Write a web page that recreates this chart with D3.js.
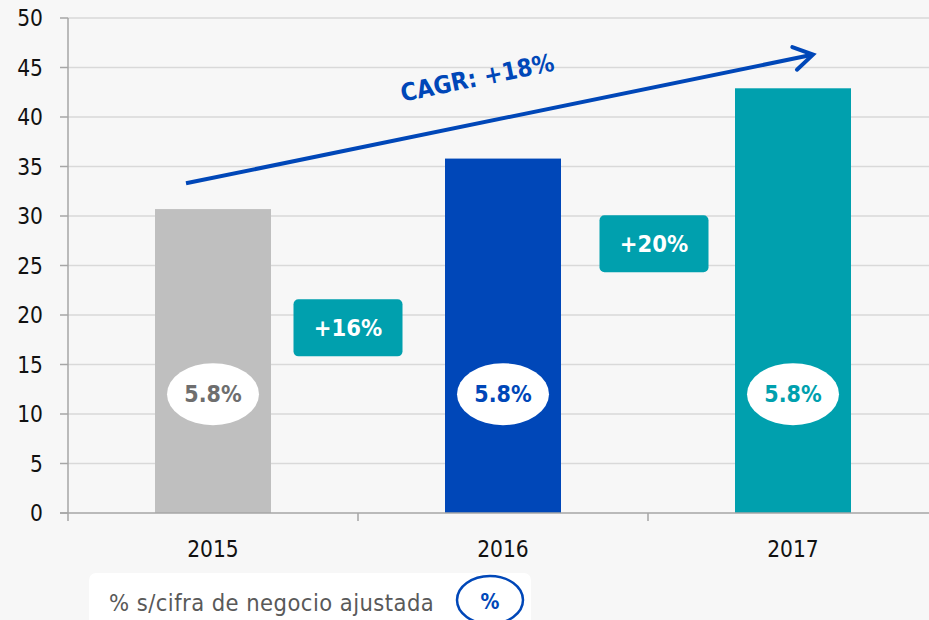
<!DOCTYPE html>
<html>
<head>
<meta charset="utf-8">
<script src="https://cdn.jsdelivr.net/npm/d3@7"></script>
<style>
  body { margin: 0; background: #f7f7f7; }
  svg { display: block; font-family: "DejaVu Sans Condensed", "DejaVu Sans", Verdana, sans-serif; }
</style>
</head>
<body>
<svg id="chart" width="929" height="620"></svg>
<script>
// datos
const years = ['2015', '2016', '2017'];
const values = [30.7, 35.8, 42.9];
const shares = ['5.8%', '5.8%', '5.8%'];
const growthLabels = ['+16%', '+20%'];
const growthLevels = [18.7, 27.2];
const cagrLabel = 'CAGR: +18%';
const cagrLevels = [33.3, 46.3];
const yTicks = [0, 5, 10, 15, 20, 25, 30, 35, 40, 45, 50];
const legendLabel = '% s/cifra de negocio ajustada';

const barColors = ['#bfbfbf', '#0047b8', '#00a0ae'];
const textColors = ['#6e6e6e', '#0047b8', '#00a0ae'];
const BLUE = '#0047b8', TEAL = '#00a0ae';

const svg = d3.select('#chart');
const x = d3.scaleBand().domain(years).range([68, 938]).paddingInner(0.6).paddingOuter(0.3);
const y = d3.scaleLinear().domain([0, 50]).range([513, 18]);
const xc = (yr) => x(yr) + x.bandwidth() / 2;

/* rejilla */
svg.append('g').selectAll('line').data(yTicks.filter(d => d > 0)).join('line')
    .attr('x1', 68).attr('x2', 929)
    .attr('y1', d => y(d)).attr('y2', d => y(d))
    .attr('stroke', '#d9d9d9').attr('stroke-width', 1.5);

/* eje y */
const yAxis = svg.append('g');
yAxis.append('line').attr('x1', 68).attr('x2', 68).attr('y1', y(50)).attr('y2', 521)
    .attr('stroke', '#a6a6a6').attr('stroke-width', 1.5);
yAxis.selectAll('line.tick').data(yTicks).join('line').attr('class', 'tick')
    .attr('x1', 60).attr('x2', 68).attr('y1', d => y(d)).attr('y2', d => y(d))
    .attr('stroke', '#a6a6a6').attr('stroke-width', 1.5);
yAxis.selectAll('text').data(yTicks).join('text')
    .attr('x', 43).attr('y', d => y(d)).attr('dy', '0.36em')
    .attr('text-anchor', 'end').attr('font-size', 22.5).attr('fill', '#111')
    .text(d => d);

/* barras */
svg.append('g').selectAll('rect').data(values).join('rect')
    .attr('x', (d, i) => x(years[i]))
    .attr('y', d => y(d))
    .attr('width', x.bandwidth())
    .attr('height', d => y(0) - y(d))
    .attr('fill', (d, i) => barColors[i]);

/* eje x */
const xAxis = svg.append('g');
xAxis.append('line').attr('x1', 60).attr('x2', 929).attr('y1', y(0)).attr('y2', y(0))
    .attr('stroke', '#a6a6a6').attr('stroke-width', 1.5);
const bounds = years.map(yr => x(yr) - x.step() * x.paddingInner() / 2).slice(1);
xAxis.selectAll('line.tick').data(bounds).join('line').attr('class', 'tick')
    .attr('x1', d => d).attr('x2', d => d).attr('y1', y(0)).attr('y2', 521)
    .attr('stroke', '#a6a6a6').attr('stroke-width', 1.5);
xAxis.selectAll('text').data(years).join('text')
    .attr('x', d => xc(d)).attr('y', 557)
    .attr('text-anchor', 'middle').attr('font-size', 22.5).attr('fill', '#111')
    .text(d => d);

/* elipses con % */
const ell = svg.append('g').selectAll('g').data(shares).join('g')
    .attr('transform', (d, i) => `translate(${xc(years[i])},${y(12)})`);
ell.append('ellipse').attr('rx', 46).attr('ry', 31).attr('fill', '#fff');
ell.append('text').attr('text-anchor', 'middle').attr('dy', '0.36em')
    .attr('font-size', 23).attr('font-weight', 'bold')
    .attr('fill', (d, i) => textColors[i]).text(d => d);

/* cajas de crecimiento */
const gb = svg.append('g').selectAll('g').data(growthLabels).join('g')
    .attr('transform', (d, i) => {
        const cx = (xc(years[i]) + xc(years[i + 1])) / 2 - 10 + i * 16;
        return `translate(${cx},${y(growthLevels[i])})`;
    });
gb.append('rect').attr('x', -54.5).attr('y', -28.5).attr('width', 109).attr('height', 57)
    .attr('rx', 5).attr('fill', TEAL);
gb.append('text').attr('text-anchor', 'middle').attr('dy', '0.36em')
    .attr('font-size', 23.5).attr('font-weight', 'bold').attr('fill', '#fff')
    .text(d => d);

/* flecha CAGR */
const x0 = xc(years[0]) - 27, x1 = xc(years[2]) + 20;
const y0 = y(cagrLevels[0]), y1 = y(cagrLevels[1]);
const ang = Math.atan2(y1 - y0, x1 - x0);
svg.append('line').attr('x1', x0).attr('y1', y0).attr('x2', x1 - 2 * Math.cos(ang)).attr('y2', y1 - 2 * Math.sin(ang))
    .attr('stroke', BLUE).attr('stroke-width', 4);
const head = [ang + Math.PI - 0.55, ang + Math.PI + 0.55].map(a => [x1 + 22 * Math.cos(a), y1 + 22 * Math.sin(a)]);
svg.append('path')
    .attr('d', `M${head[0][0]},${head[0][1]}L${x1},${y1}L${head[1][0]},${head[1][1]}`)
    .attr('fill', 'none').attr('stroke', BLUE).attr('stroke-width', 4)
    .attr('stroke-linecap', 'round').attr('stroke-linejoin', 'miter');
svg.append('text')
    .attr('transform', `translate(479,86) rotate(${ang * 180 / Math.PI})`)
    .attr('text-anchor', 'middle').attr('font-size', 24.5).attr('font-weight', 'bold')
    .attr('fill', BLUE).text(cagrLabel);

/* leyenda */
const lg = svg.append('g');
lg.append('rect').attr('x', 89).attr('y', 573).attr('width', 442).attr('height', 60)
    .attr('rx', 7).attr('fill', '#fff');
lg.append('text').attr('x', 109).attr('y', 611).attr('font-size', 23.5)
    .attr('letter-spacing', 0.45).attr('fill', '#595959')
    .text(legendLabel);
lg.append('ellipse').attr('cx', 490).attr('cy', 600).attr('rx', 33).attr('ry', 24)
    .attr('fill', '#fff').attr('stroke', BLUE).attr('stroke-width', 2.5);
lg.append('text').attr('x', 490).attr('y', 609).attr('text-anchor', 'middle')
    .attr('font-size', 21).attr('font-weight', 'bold').attr('fill', BLUE).text('%');
</script>
</body>
</html>
